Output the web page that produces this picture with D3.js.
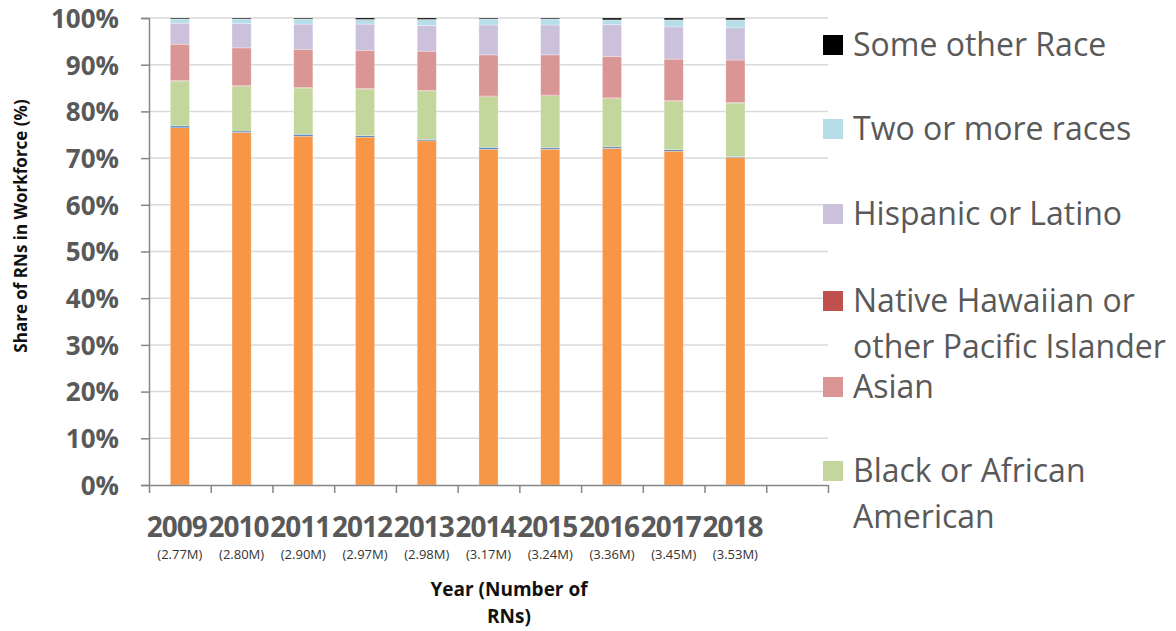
<!DOCTYPE html>
<html>
<head>
<meta charset="utf-8">
<script src="https://cdn.jsdelivr.net/npm/d3@7"></script>
<style>
  body { margin: 0; background: #fff; }
  svg { display: block; }
  text { font-family: "Open Sans", "Noto Sans", sans-serif; }
</style>
</head>
<body>
<svg id="chart" width="1176" height="631"></svg>
<script>
// ---- data ----
const years = ["2009","2010","2011","2012","2013","2014","2015","2016","2017","2018"];
const rnCounts = ["(2.77M)","(2.80M)","(2.90M)","(2.97M)","(2.98M)","(3.17M)","(3.24M)","(3.36M)","(3.45M)","(3.53M)"];
const seriesNames = ["White","American Indian or Alaska Native","Black or African American","Native Hawaiian or other Pacific Islander","Asian","Hispanic or Latino","Two or more races","Some other Race"];
const white    = [76.5, 75.5, 74.7, 74.5, 73.7, 71.9, 71.9, 72.1, 71.5, 70.1];
const aian     = [0.4, 0.3, 0.4, 0.3, 0.3, 0.4, 0.3, 0.3, 0.3, 0.2];
const black    = [9.6, 9.6, 9.9, 10.0, 10.4, 10.9, 11.2, 10.4, 10.4, 11.5];
const nhpi     = [0.1, 0.1, 0.1, 0.1, 0.1, 0.1, 0.1, 0.1, 0.1, 0.1];
const asian    = [7.8, 8.1, 8.2, 8.2, 8.4, 8.8, 8.6, 8.9, 8.9, 9.1];
const hispanic = [4.5, 5.2, 5.4, 5.6, 5.5, 6.4, 6.4, 6.8, 6.9, 6.9];
const twoMore  = [0.9, 1.0, 1.1, 1.0, 1.3, 1.3, 1.3, 1.0, 1.5, 1.7];
const other    = [0.2, 0.2, 0.2, 0.3, 0.3, 0.2, 0.2, 0.4, 0.4, 0.4];
const yTicks = [0, 10, 20, 30, 40, 50, 60, 70, 80, 90, 100];
const legendNames = [["Some other Race"],["Two or more races"],["Hispanic or Latino"],["Native Hawaiian or","other Pacific Islander"],["Asian"],["Black or African","American"]];
const legendKeys = ["Some other Race","Two or more races","Hispanic or Latino","Native Hawaiian or other Pacific Islander","Asian","Black or African American"];

const seriesValues = [white, aian, black, nhpi, asian, hispanic, twoMore, other];
const colors = ["#F79646","#4F81BD","#C3D69B","#C0504D","#D99694","#CCC1DA","#B7DEE8","#000000"];
const color = d3.scaleOrdinal().domain(seriesNames).range(colors);

const table = years.map((y, i) => {
  const row = { year: y };
  seriesNames.forEach((s, j) => row[s] = seriesValues[j][i]);
  return row;
});
const stacked = d3.stack().keys(seriesNames)(table);

// ---- layout ----
const svg = d3.select("#chart");
const L = 149, R = 828, T = 18, B = 485;
const nSlots = years.length + 1;
const slots = years.concat([" "]);
const x = d3.scaleBand().domain(slots).range([L, R]).paddingInner(0.69).paddingOuter(0.345);
const xLin = d3.scaleLinear().domain([0, nSlots]).range([L, R]);
const y = d3.scaleLinear().domain([0, 100]).range([B, T]);

// gridlines
svg.append("g").selectAll("line").data(yTicks.filter(d => d > 0)).join("line")
  .attr("x1", L).attr("x2", R).attr("y1", d => y(d)).attr("y2", d => y(d))
  .attr("stroke", "#d9d9d9").attr("stroke-width", 1.5);

// bars
svg.append("g").selectAll("g").data(stacked).join("g")
  .attr("fill", d => color(d.key))
  .selectAll("rect").data(d => d).join("rect")
  .attr("x", d => x(d.data.year))
  .attr("width", x.bandwidth())
  .attr("y", d => y(d[1]))
  .attr("height", d => Math.max(0, y(d[0]) - y(d[1])))
  .attr("stroke", "#ffffff").attr("stroke-opacity", 0.5).attr("stroke-width", 0.6);

// y axis
const yAxis = d3.axisLeft(y).tickValues(yTicks).tickFormat(d => d + "%").tickSize(8).tickPadding(22);
const gy = svg.append("g").attr("transform", `translate(${L},0)`).call(yAxis);
gy.select(".domain").attr("stroke", "#868686").attr("stroke-width", 1.5);
gy.selectAll(".tick line").attr("stroke", "#868686").attr("stroke-width", 1.5);
gy.selectAll(".tick text").attr("fill", "#595959").style("font-size", "26px").style("font-weight", "bold")
  .style("font-family", "'Open Sans', sans-serif").attr("dy", "0.36em");

// x axis
const xAxis = d3.axisBottom(xLin).tickValues(d3.range(nSlots + 1)).tickFormat("").tickSize(8).tickSizeOuter(0);
const gx = svg.append("g").attr("transform", `translate(0,${B})`).call(xAxis);
gx.select(".domain").attr("stroke", "#868686").attr("stroke-width", 1.5);
gx.selectAll(".tick line").attr("stroke", "#868686").attr("stroke-width", 1.5);

// x labels
const xl = svg.append("g");
xl.selectAll("text.yr").data(years).join("text").attr("class", "yr")
  .attr("x", d => x(d) + x.bandwidth() / 2 - 3).attr("y", 537)
  .attr("text-anchor", "middle").attr("fill", "#595959")
  .style("font-size", "28px").style("font-weight", "bold").style("letter-spacing", "-1px")
  .text(d => d);
xl.selectAll("text.cnt").data(years).join("text").attr("class", "cnt")
  .attr("x", d => x(d) + x.bandwidth() / 2).attr("y", 559)
  .attr("text-anchor", "middle").attr("fill", "#333")
  .style("font-size", "13px")
  .text((d, i) => rnCounts[i]);

// axis titles
const xt = svg.append("text").attr("text-anchor", "middle").attr("fill", "#111")
  .style("font-size", "19px").style("font-weight", "bold");
xt.append("tspan").attr("x", 509).attr("y", 596).text("Year (Number of");
xt.append("tspan").attr("x", 509).attr("y", 623).text("RNs)");

svg.append("text").attr("transform", "translate(27,226) rotate(-90)")
  .attr("text-anchor", "middle").attr("fill", "#111")
  .style("font-size", "17px").style("font-weight", "bold")
  .text("Share of RNs in Workforce (%)");

// legend
const lg = svg.append("g");
const legendBase = [56, 140, 225, 312, 398, 482];
legendKeys.forEach((k, i) => {
  const g = lg.append("g");
  g.append("rect").attr("x", 823).attr("y", legendBase[i] - 21).attr("width", 20).attr("height", 20)
    .attr("fill", color(k));
  const t = g.append("text").attr("fill", "#595959").style("font-size", "32px");
  legendNames[i].forEach((line, j) => {
    t.append("tspan").attr("x", 853).attr("y", legendBase[i] + j * 46).text(line);
  });
});
</script>
</body>
</html>
